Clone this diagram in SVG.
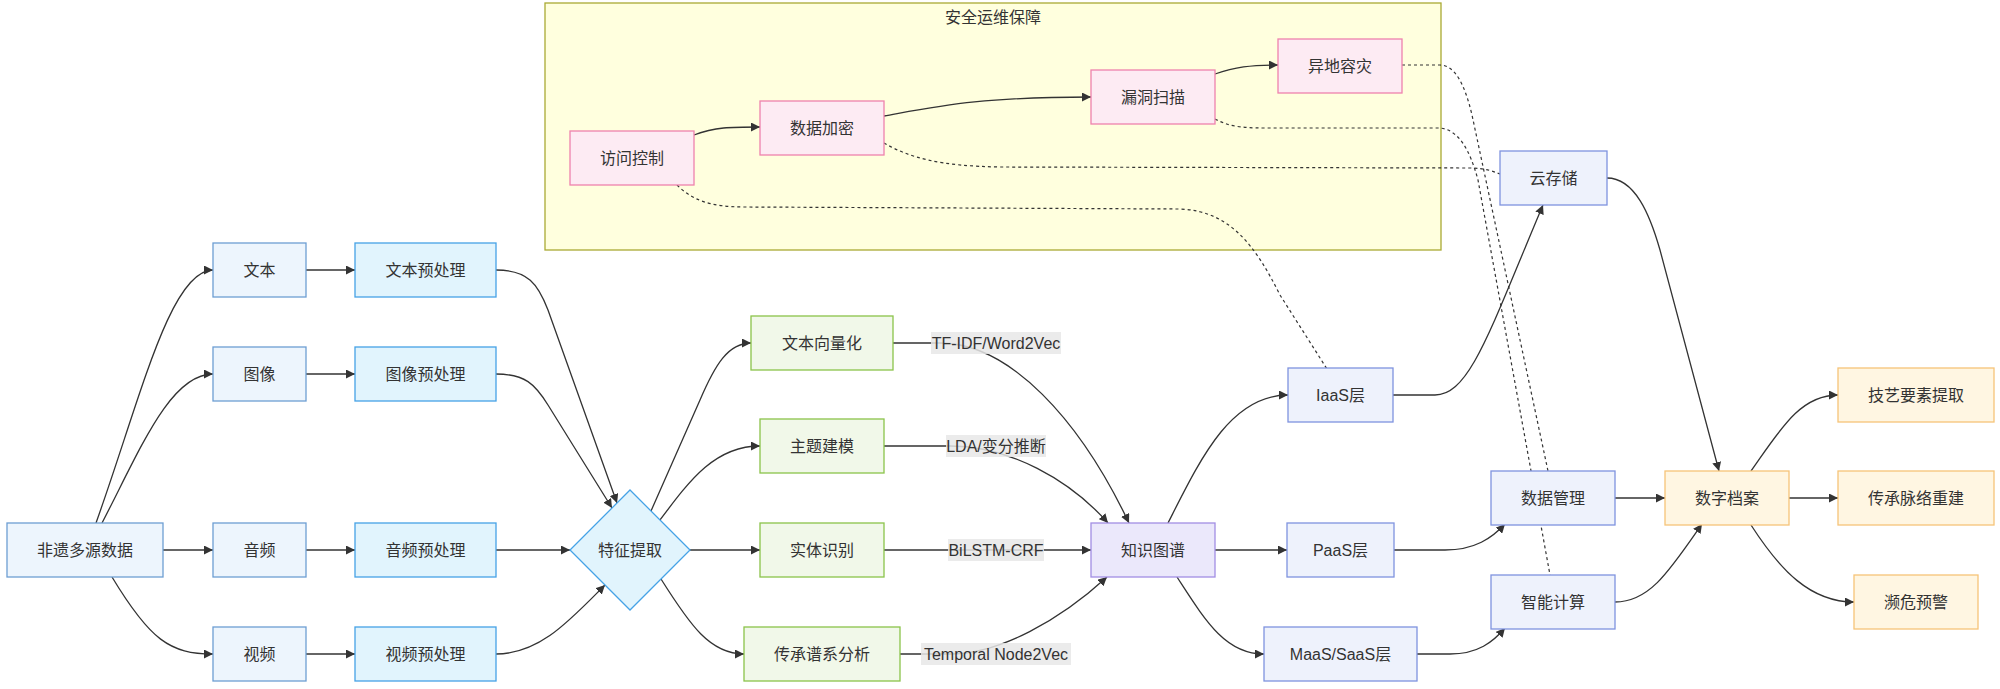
<svg xmlns="http://www.w3.org/2000/svg" width="2000" height="689" viewBox="0 0 2000 689">
<defs>
<marker id="arr" viewBox="0 0 10 10" refX="10" refY="5" markerWidth="9" markerHeight="9" markerUnits="userSpaceOnUse" orient="auto"><path d="M0,0 L10,5 L0,10 z" fill="#333"/></marker>
<style>
.e{fill:none;stroke:#333;stroke-width:1.3}
.ea{marker-end:url(#arr)}
.d{fill:none;stroke:#333;stroke-width:1.2;stroke-dasharray:3 3}
.n rect,.n polygon{stroke-width:1.3}
.src{fill:#edf5fd;stroke:#6d9ed3}
.pre{fill:#e1f4fd;stroke:#45a2e6}
.grn{fill:#f1f8e9;stroke:#8bc34a}
.kg{fill:#ebe8fb;stroke:#a28ee3}
.cld{fill:#eef2fc;stroke:#7f93df}
.org{fill:#fff6e2;stroke:#f6c478}
.pnk{fill:#fdebf3;stroke:#ee82ad}
text{font-family:"Liberation Sans","Noto Sans CJK SC",sans-serif;font-size:16px;fill:#333;text-anchor:middle;dominant-baseline:central}
.lb{fill:#e8e8e8;fill-opacity:0.85}
</style>
</defs>
<rect width="2000" height="689" fill="#ffffff"/>
<g id="cluster-security">
<rect x="545" y="3" width="896" height="247" fill="#ffffde" stroke="#aaaa33" stroke-width="1.3"/>
<text x="993" y="17">安全运维保障</text>
</g>
<g id="connectors">
<path class="e ea" d="M96,523 C140,400 170,270 213,270"/>
<path class="e ea" d="M102,523 C140,450 170,374 213,374"/>
<path class="e ea" d="M163,550 L213,550"/>
<path class="e ea" d="M112,577 C150,640 170,654 213,654"/>
<path class="e ea" d="M306,270 L355,270"/>
<path class="e ea" d="M306,374 L355,374"/>
<path class="e ea" d="M306,550 L355,550"/>
<path class="e ea" d="M306,654 L355,654"/>
<path class="e ea" d="M496,270 C528,270 538,284 548,310 L617,503"/>
<path class="e ea" d="M496,374 C525,374 535,384 548,405 L612,508"/>
<path class="e ea" d="M496,550 L570,550"/>
<path class="e ea" d="M496,654 C540,654 570,620 605,585"/>
<path class="e ea" d="M651,511 L700,400 C715,365 728,343 751,343"/>
<path class="e ea" d="M660,520 C690,480 715,446 760,446"/>
<path class="e ea" d="M690,550 L760,550"/>
<path class="e ea" d="M661,579 C690,625 710,654 744,654"/>
<path class="e ea" d="M893,343 L940,343 C1010,343 1080,420 1129,523"/>
<path class="e ea" d="M884,446 L950,446 C1010,446 1070,480 1108,523"/>
<path class="e ea" d="M884,550 L1091,550"/>
<path class="e ea" d="M900,654 L950,654 C1000,654 1060,620 1107,577"/>
<path class="e ea" d="M1168,523 C1200,460 1230,395 1288,395"/>
<path class="e ea" d="M1215,550 L1287,550"/>
<path class="e ea" d="M1177,577 C1205,620 1225,654 1264,654"/>
<path class="e ea" d="M1393,395 L1435,395 C1470,395 1490,330 1543,205"/>
<path class="e ea" d="M1394,550 L1445,550 C1475,550 1492,538 1505,524"/>
<path class="e ea" d="M1417,654 L1450,654 C1478,654 1493,642 1505,628"/>
<path class="e ea" d="M1607,178 C1635,178 1650,215 1660,250 L1719,471"/>
<path class="e ea" d="M1615,498 L1665,498"/>
<path class="e ea" d="M1615,602 C1650,602 1670,570 1702,524"/>
<path class="e ea" d="M1751,471 C1780,430 1800,395 1838,395"/>
<path class="e ea" d="M1789,498 L1838,498"/>
<path class="e ea" d="M1751,525 C1780,570 1810,602 1854,602"/>
<path class="e ea" d="M694,135 C715,127 730,127 760,127"/>
<path class="e ea" d="M884,116 C940,106 980,97 1091,97"/>
<path class="e ea" d="M1215,74 C1235,67 1250,65 1278,65"/>
<path class="d" d="M677,185 C692,200 710,207 745,207 L1180,209 C1230,211 1255,245 1280,295 L1327,369"/>
<path class="d" d="M884,143 C910,158 940,166 1000,167 L1470,168 C1485,168 1492,171 1500,174"/>
<path class="d" d="M1215,119 C1228,126 1240,128 1265,128 L1438,128 C1458,128 1470,150 1478,180 L1550,575"/>
<path class="d" d="M1402,65 L1440,65 C1455,65 1465,85 1472,115 L1548,471"/>
</g>
<g id="edge-labels">
<rect class="lb" x="931" y="332" width="130" height="22"/>
<text x="996" y="343">TF-IDF/Word2Vec</text>
<rect class="lb" x="946" y="435" width="100" height="22"/>
<text x="996" y="446">LDA/变分推断</text>
<rect class="lb" x="948" y="539" width="96" height="22"/>
<text x="996" y="550">BiLSTM-CRF</text>
<rect class="lb" x="921" y="643" width="150" height="22"/>
<text x="996" y="654">Temporal Node2Vec</text>
</g>
<g id="n-src" class="n"><rect class="src" x="7" y="523" width="156" height="54"/><text x="85" y="550">非遗多源数据</text></g>
<g id="n-text" class="n"><rect class="src" x="213" y="243" width="93" height="54"/><text x="259.5" y="270">文本</text></g>
<g id="n-image" class="n"><rect class="src" x="213" y="347" width="93" height="54"/><text x="259.5" y="374">图像</text></g>
<g id="n-audio" class="n"><rect class="src" x="213" y="523" width="93" height="54"/><text x="259.5" y="550">音频</text></g>
<g id="n-video" class="n"><rect class="src" x="213" y="627" width="93" height="54"/><text x="259.5" y="654">视频</text></g>
<g id="n-textpre" class="n"><rect class="pre" x="355" y="243" width="141" height="54"/><text x="425.5" y="270">文本预处理</text></g>
<g id="n-imagepre" class="n"><rect class="pre" x="355" y="347" width="141" height="54"/><text x="425.5" y="374">图像预处理</text></g>
<g id="n-audiopre" class="n"><rect class="pre" x="355" y="523" width="141" height="54"/><text x="425.5" y="550">音频预处理</text></g>
<g id="n-videopre" class="n"><rect class="pre" x="355" y="627" width="141" height="54"/><text x="425.5" y="654">视频预处理</text></g>
<g id="n-feature" class="n"><polygon class="pre" points="630,490 690,550 630,610 570,550"/><text x="630" y="550">特征提取</text></g>
<g id="n-vector" class="n"><rect class="grn" x="751" y="316" width="142" height="54"/><text x="822" y="343">文本向量化</text></g>
<g id="n-topic" class="n"><rect class="grn" x="760" y="419" width="124" height="54"/><text x="822" y="446">主题建模</text></g>
<g id="n-ner" class="n"><rect class="grn" x="760" y="523" width="124" height="54"/><text x="822" y="550">实体识别</text></g>
<g id="n-lineage" class="n"><rect class="grn" x="744" y="627" width="156" height="54"/><text x="822" y="654">传承谱系分析</text></g>
<g id="n-kg" class="n"><rect class="kg" x="1091" y="523" width="124" height="54"/><text x="1153" y="550">知识图谱</text></g>
<g id="n-iaas" class="n"><rect class="cld" x="1288" y="368" width="105" height="54"/><text x="1340.5" y="395">IaaS层</text></g>
<g id="n-paas" class="n"><rect class="cld" x="1287" y="523" width="107" height="54"/><text x="1340.5" y="550">PaaS层</text></g>
<g id="n-maas" class="n"><rect class="cld" x="1264" y="627" width="153" height="54"/><text x="1340.5" y="654">MaaS/SaaS层</text></g>
<g id="n-cloud" class="n"><rect class="cld" x="1500" y="151" width="107" height="54"/><text x="1553.5" y="178">云存储</text></g>
<g id="n-datamgmt" class="n"><rect class="cld" x="1491" y="471" width="124" height="54"/><text x="1553" y="498">数据管理</text></g>
<g id="n-compute" class="n"><rect class="cld" x="1491" y="575" width="124" height="54"/><text x="1553" y="602">智能计算</text></g>
<g id="n-archive" class="n"><rect class="org" x="1665" y="471" width="124" height="54"/><text x="1727" y="498">数字档案</text></g>
<g id="n-skill" class="n"><rect class="org" x="1838" y="368" width="156" height="54"/><text x="1916" y="395">技艺要素提取</text></g>
<g id="n-rebuild" class="n"><rect class="org" x="1838" y="471" width="156" height="54"/><text x="1916" y="498">传承脉络重建</text></g>
<g id="n-warn" class="n"><rect class="org" x="1854" y="575" width="124" height="54"/><text x="1916" y="602">濒危预警</text></g>
<g id="n-access" class="n"><rect class="pnk" x="570" y="131" width="124" height="54"/><text x="632" y="158">访问控制</text></g>
<g id="n-encrypt" class="n"><rect class="pnk" x="760" y="101" width="124" height="54"/><text x="822" y="128">数据加密</text></g>
<g id="n-vuln" class="n"><rect class="pnk" x="1091" y="70" width="124" height="54"/><text x="1153" y="97">漏洞扫描</text></g>
<g id="n-dr" class="n"><rect class="pnk" x="1278" y="39" width="124" height="54"/><text x="1340" y="66">异地容灾</text></g>
</svg>
